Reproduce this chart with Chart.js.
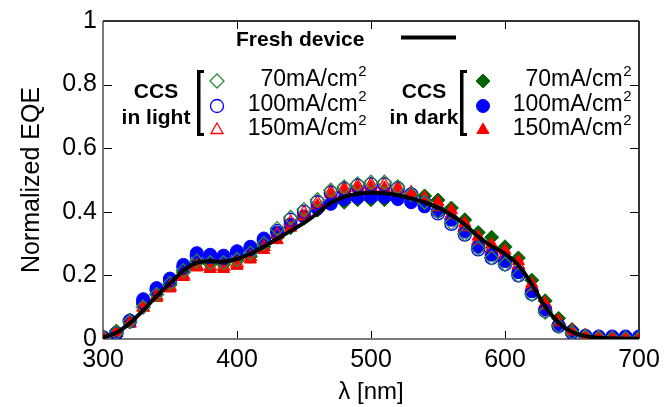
<!DOCTYPE html>
<html>
<head>
<meta charset="utf-8">
<script src="https://cdn.jsdelivr.net/npm/chart.js@4.4.1/dist/chart.umd.min.js"></script>
<style>
  html, body { margin: 0; padding: 0; background: #fff; }
  #wrap { width: 667px; height: 407px; position: relative; }
</style>
</head>
<body>
<div id="wrap"><canvas id="eqe"></canvas></div>
<script>
const wavelengths = [300, 310, 320, 330, 340, 350, 360, 370, 380, 390, 400, 410, 420, 430, 440, 450, 460, 470, 480, 490, 500,
  510, 520, 530, 540, 550, 560, 570, 580, 590, 600, 610, 620, 630, 640, 650, 660, 670, 680, 690, 700];

const freshDevice = [0.005, 0.02, 0.05, 0.09, 0.135, 0.175, 0.215, 0.24, 0.245, 0.243, 0.252, 0.268, 0.29, 0.315, 0.34, 0.365, 0.395, 0.428, 0.447, 0.457, 0.46,
  0.458, 0.452, 0.442, 0.43, 0.413, 0.39, 0.36, 0.322, 0.292, 0.268, 0.232, 0.172, 0.102, 0.052, 0.022, 0.009, 0.004, 0.002, 0.001, 0.001];

// CCS in light (open markers)
const light70 = [0.005, 0.02, 0.055, 0.1, 0.14, 0.175, 0.215, 0.245, 0.24, 0.24, 0.25, 0.27, 0.3, 0.347, 0.382, 0.407, 0.438, 0.468, 0.478, 0.488, 0.493,
  0.493, 0.478, 0.455, 0.43, 0.4, 0.365, 0.33, 0.285, 0.255, 0.235, 0.2, 0.14, 0.085, 0.04, 0.02, 0.008, 0.004, 0.003, 0.002, 0.002];
const light100 = [0.005, 0.018, 0.055, 0.115, 0.155, 0.185, 0.225, 0.26, 0.258, 0.255, 0.268, 0.283, 0.31, 0.34, 0.375, 0.4, 0.43, 0.46, 0.472, 0.482, 0.486,
  0.486, 0.474, 0.455, 0.428, 0.395, 0.362, 0.328, 0.282, 0.255, 0.235, 0.2, 0.142, 0.088, 0.04, 0.02, 0.008, 0.004, 0.003, 0.002, 0.002];
const light150 = [0.006, 0.02, 0.05, 0.1, 0.135, 0.165, 0.2, 0.23, 0.228, 0.228, 0.238, 0.258, 0.29, 0.33, 0.368, 0.398, 0.43, 0.462, 0.474, 0.482, 0.486,
  0.486, 0.476, 0.46, 0.44, 0.415, 0.39, 0.352, 0.31, 0.285, 0.265, 0.232, 0.165, 0.105, 0.052, 0.024, 0.01, 0.005, 0.003, 0.002, 0.002];

// CCS in dark (filled markers)
const dark70 = [0.006, 0.025, 0.06, 0.11, 0.14, 0.17, 0.21, 0.24, 0.235, 0.235, 0.245, 0.26, 0.29, 0.32, 0.35, 0.38, 0.405, 0.427, 0.43, 0.438, 0.438,
  0.438, 0.44, 0.45, 0.45, 0.437, 0.412, 0.375, 0.335, 0.32, 0.29, 0.255, 0.185, 0.12, 0.065, 0.03, 0.012, 0.005, 0.003, 0.002, 0.002];
const dark100 = [0.005, 0.017, 0.058, 0.125, 0.16, 0.19, 0.233, 0.27, 0.265, 0.262, 0.276, 0.29, 0.316, 0.335, 0.36, 0.385, 0.41, 0.425, 0.44, 0.445, 0.447,
  0.447, 0.44, 0.43, 0.417, 0.402, 0.375, 0.338, 0.29, 0.265, 0.245, 0.21, 0.15, 0.093, 0.043, 0.022, 0.01, 0.008, 0.008, 0.008, 0.008];
const dark150 = [0.009, 0.022, 0.048, 0.098, 0.129, 0.159, 0.195, 0.225, 0.22, 0.22, 0.23, 0.25, 0.28, 0.311, 0.35, 0.385, 0.42, 0.455, 0.468, 0.475, 0.478,
  0.475, 0.47, 0.46, 0.445, 0.43, 0.405, 0.365, 0.322, 0.298, 0.278, 0.245, 0.174, 0.113, 0.058, 0.027, 0.012, 0.005, 0.003, 0.002, 0.002];

const xTicks = [300, 400, 500, 600, 700];
const yTicks = [0, 0.2, 0.4, 0.6, 0.8, 1];
const densityLabels = ["70mA/cm", "100mA/cm", "150mA/cm"];

const FONT = "'Liberation Sans', Arial, sans-serif";
const GREEN_OPEN = "#2e8b3a";
const GREEN_DARK = "#006400";

function pts(values) {
  return values.map((v, i) => ({ x: wavelengths[i], y: v }));
}

function markerSet(label, values, style, color, filled) {
  return {
    label: label,
    data: pts(values),
    showLine: false,
    pointStyle: style,
    pointRadius: style === "circle" ? 6.5 : 7,
    pointBorderWidth: filled ? 1 : 1.3,
    pointBorderColor: color,
    pointBackgroundColor: filled ? color : "rgba(0,0,0,0)",
    borderColor: color,
    backgroundColor: filled ? color : "rgba(0,0,0,0)"
  };
}

function line(ctx, x1, y1, x2, y2) {
  ctx.beginPath();
  ctx.moveTo(x1, y1);
  ctx.lineTo(x2, y2);
  ctx.stroke();
}

const frame = {
  id: "frame",
  beforeDatasetsDraw(chart) {
    const ctx = chart.ctx, a = chart.chartArea;
    const xs = chart.scales.x, ys = chart.scales.y;
    ctx.save();
    ctx.lineWidth = 1;
    ctx.strokeStyle = "#000";
    yTicks.forEach(v => {
      if (v === 0 || v === 1) return;
      const y = Math.round(ys.getPixelForValue(v)) + 0.5;
      line(ctx, a.left, y, a.left + 9, y);
      line(ctx, a.right - 9, y, a.right, y);
    });
    xTicks.forEach(v => {
      if (v === 300 || v === 700) return;
      const x = Math.round(xs.getPixelForValue(v)) + 0.5;
      line(ctx, x, a.bottom, x, a.bottom - 8);
      line(ctx, x, a.top, x, a.top + 8);
    });
    ctx.lineWidth = 2;
    ctx.strokeStyle = "#7a7a7a";
    line(ctx, a.left, a.top, a.left, a.bottom);
    line(ctx, a.left, a.bottom, a.right, a.bottom);
    ctx.strokeStyle = "#333";
    line(ctx, a.left, a.top, a.right, a.top);
    line(ctx, a.right, a.top, a.right, a.bottom);
    ctx.restore();
  }
};

function densityText(ctx, base, rightX, cy) {
  ctx.font = "23px " + FONT;
  const wb = ctx.measureText(base).width;
  ctx.font = "15px " + FONT;
  const ws = ctx.measureText("2").width;
  const x0 = rightX - ws - wb;
  ctx.fillStyle = "#000";
  ctx.textBaseline = "middle";
  ctx.textAlign = "left";
  ctx.font = "23px " + FONT;
  ctx.fillText(base, x0, cy);
  ctx.font = "15px " + FONT;
  ctx.fillText("2", x0 + wb + 0.5, cy - 8);
}

function bracket(ctx, x, top, bottom) {
  ctx.fillStyle = "#000";
  ctx.fillRect(x, top, 3.5, bottom - top);
  ctx.fillRect(x, top, 7, 3);
  ctx.fillRect(x, bottom - 3, 7, 3);
}

function legendGroup(ctx, title1, title2, titleX, bracketX, markX, textRight, filled) {
  ctx.fillStyle = "#000";
  ctx.textAlign = "center";
  ctx.textBaseline = "middle";
  ctx.font = "bold 21px " + FONT;
  ctx.fillText(title1, titleX, 92);
  ctx.fillText(title2, titleX, 118);
  bracket(ctx, bracketX, 70, 136);
  const styles = [
    ["rectRot", filled ? GREEN_DARK : GREEN_OPEN, 7],
    ["circle", "#0000ff", 6.5],
    ["triangle", "#ff0000", 7]
  ];
  const rows = [81, 106, 130];
  styles.forEach((s, i) => {
    ctx.save();
    ctx.strokeStyle = s[1];
    ctx.fillStyle = filled ? s[1] : "rgba(0,0,0,0)";
    ctx.lineWidth = filled ? 1 : 1.3;
    Chart.helpers.drawPoint(ctx, { pointStyle: s[0], radius: s[2], rotation: 0, borderWidth: ctx.lineWidth }, markX, rows[i]);
    ctx.restore();
    densityText(ctx, densityLabels[i], textRight, rows[i] - 1);
  });
}

const legendBox = {
  id: "legendBox",
  afterDraw(chart) {
    const ctx = chart.ctx;
    ctx.save();
    ctx.fillStyle = "#000";
    ctx.font = "bold 21px " + FONT;
    ctx.textAlign = "left";
    ctx.textBaseline = "middle";
    ctx.fillText("Fresh device", 236, 40);
    ctx.fillRect(401, 35.5, 55, 4);
    legendGroup(ctx, "CCS", "in light", 156, 197, 217, 366, false);
    legendGroup(ctx, "CCS", "in dark", 424, 460, 483, 631, true);
    ctx.restore();
  }
};

new Chart(document.getElementById("eqe"), {
  type: "scatter",
  data: {
    datasets: [
      {
        label: "Fresh device",
        data: pts(freshDevice),
        showLine: true,
        borderColor: "#000",
        borderWidth: 4,
        pointRadius: 0,
        tension: 0.4,
        fill: false
      },
      markerSet("CCS in light 70mA/cm2", light70, "rectRot", GREEN_OPEN, false),
      markerSet("CCS in light 100mA/cm2", light100, "circle", "#0000ff", false),
      markerSet("CCS in light 150mA/cm2", light150, "triangle", "#ff0000", false),
      markerSet("CCS in dark 150mA/cm2", dark150, "triangle", "#ff0000", true),
      markerSet("CCS in dark 100mA/cm2", dark100, "circle", "#0000ff", true),
      markerSet("CCS in dark 70mA/cm2", dark70, "rectRot", GREEN_DARK, true)
    ]
  },
  options: {
    responsive: true,
    maintainAspectRatio: false,
    animation: false,
    layout: { padding: { top: 10, right: 28, left: 0, bottom: 0 } },
    plugins: { legend: { display: false }, tooltip: { enabled: false } },
    scales: {
      x: {
        type: "linear",
        min: 300,
        max: 700,
        afterBuildTicks: axis => { axis.ticks = xTicks.map(v => ({ value: v })); },
        afterFit: axis => { axis.height = 68; },
        grid: { display: false, drawTicks: false },
        border: { display: false },
        ticks: {
          color: "#000",
          padding: 6,
          maxRotation: 0,
          font: { family: FONT, size: 25 }
        },
        title: {
          display: true,
          text: "λ [nm]",
          color: "#000",
          padding: { top: 0, bottom: 0 },
          font: { family: FONT, size: 24 }
        }
      },
      y: {
        min: 0,
        max: 1,
        afterBuildTicks: axis => { axis.ticks = yTicks.map(v => ({ value: v })); },
        afterFit: axis => { axis.width = 103; },
        grid: { display: false, drawTicks: false },
        border: { display: false },
        ticks: {
          color: "#000",
          padding: 6,
          font: { family: FONT, size: 25 },
          callback: v => String(v)
        },
        title: {
          display: true,
          text: "Normalized EQE",
          color: "#000",
          padding: { top: 17, bottom: 0 },
          font: { family: FONT, size: 25 }
        }
      }
    }
  },
  plugins: [frame, legendBox]
});
</script>
</body>
</html>
